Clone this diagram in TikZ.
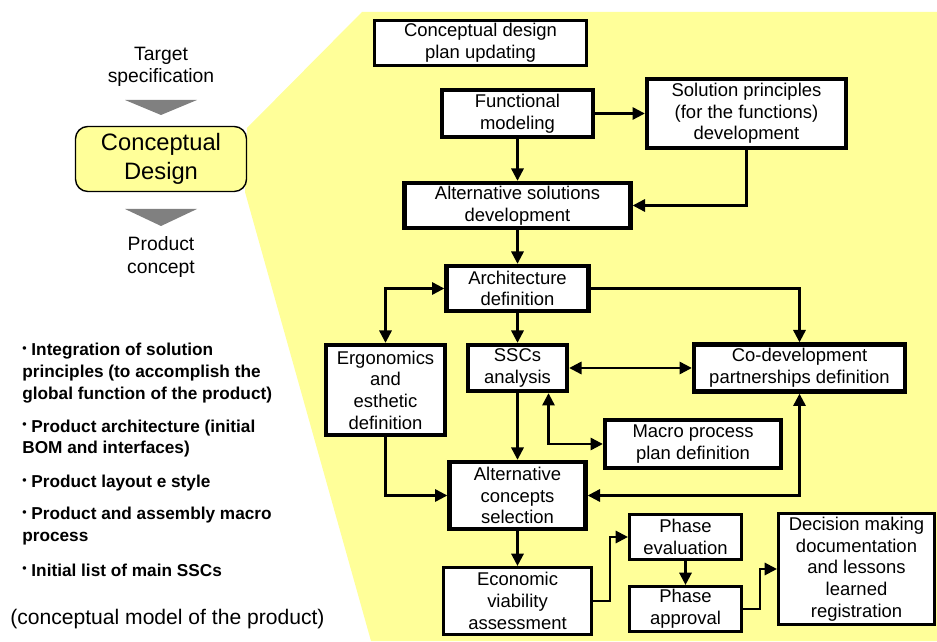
\documentclass[tikz,border=0pt]{standalone}
\usepackage{fontspec}
\setmainfont{Liberation Sans}
\usetikzlibrary{arrows.meta}
\definecolor{paleyellow}{HTML}{FFFF99}

\begin{document}
\begin{tikzpicture}[every node/.style={font=\fontsize{10.5}{12.3}\selectfont},
  box/.style={draw,line width=2.5pt,fill=white,align=center,inner sep=1pt},
  thinbox/.style={draw,line width=1.5pt,fill=white,align=center,inner sep=1pt},
  label/.style={align=center,font=\fontsize{11}{12.6}\selectfont},
  list/.style={align=left,inner sep=0pt,font=\fontsize{9.8}{12.3}\selectfont\bfseries},
  flow/.style={line width=1.3pt,-{Triangle[length=7pt,width=7pt]}},
  twoway/.style={line width=1.3pt,{Triangle[length=7pt,width=7pt]}-{Triangle[length=7pt,width=7pt]}}]
\useasboundingbox (0,0) rectangle (18.74,12.82);
% yellow zoom wedge
\fill[paleyellow] (4.94,10.26) -- (7.24,12.58) -- (18.74,12.58) -- (18.74,0) -- (7.42,0) -- (4.90,8.98) -- cycle;

% left column
\node[label] (target) at (3.22,11.48) {Target\\specification};
\fill[gray] (2.50,10.82) -- (3.94,10.82) -- (3.22,10.52) -- cycle;
\node[draw,line width=0.8pt,rounded corners=7pt,fill=paleyellow,minimum width=3.42cm,minimum height=1.30cm,
  align=center,font=\fontsize{13.5}{16.5}\selectfont] (cd) at (3.22,9.64) {Conceptual\\Design};
\fill[gray] (2.50,8.64) -- (3.94,8.64) -- (3.22,8.30) -- cycle;
\node[label] (concept) at (3.22,7.68) {Product\\concept};

\node[list,anchor=west] (item1) at (0.44,5.36) {\raisebox{0.35ex}{\scriptsize\textbullet}\ Integration of solution\\principles (to accomplish the\\global function of the product)};
\node[list,anchor=west] (item2) at (0.44,4.05) {\raisebox{0.35ex}{\scriptsize\textbullet}\ Product architecture (initial\\BOM and interfaces)};
\node[list,anchor=west] (item3) at (0.44,3.16) {\raisebox{0.35ex}{\scriptsize\textbullet}\ Product layout e style};
\node[list,anchor=west] (item4) at (0.44,2.30) {\raisebox{0.35ex}{\scriptsize\textbullet}\ Product and assembly macro\\process};
\node[list,anchor=west] (item5) at (0.44,1.42) {\raisebox{0.35ex}{\scriptsize\textbullet}\ Initial list of main SSCs};
\node[anchor=west,inner sep=0pt,font=\fontsize{12}{14}\selectfont] (model) at (0.20,0.44) {(conceptual model of the product)};

% activities
\node[thinbox,minimum width=4.25cm,minimum height=0.91cm] (plan) at (9.61,11.96) {Conceptual design\\plan updating};
\node[box,minimum width=3.02cm,minimum height=0.94cm] (func) at (10.35,10.55) {Functional\\modeling};
\node[box,minimum width=3.98cm,minimum height=1.38cm] (princ) at (14.93,10.55) {Solution principles\\(for the functions)\\development};
\node[box,minimum width=4.52cm,minimum height=0.90cm] (altsol) at (10.35,8.71) {Alternative solutions\\development};
\node[box,minimum width=2.84cm,minimum height=0.90cm] (arch) at (10.35,7.05) {Architecture\\definition};
\node[box,minimum width=2.38cm,minimum height=1.80cm] (ergo) at (7.71,5.02) {Ergonomics\\and\\esthetic\\definition};
\node[box,minimum width=1.98cm,minimum height=0.92cm] (ssc) at (10.35,5.46) {SSCs\\analysis};
\node[box,minimum width=4.22cm,minimum height=0.94cm] (codev) at (15.99,5.46) {Co-development\\partnerships definition};
\node[box,minimum width=3.52cm,minimum height=0.96cm] (macro) at (13.86,3.94) {Macro process\\plan definition};
\node[box,minimum width=2.72cm,minimum height=1.34cm] (altcon) at (10.35,2.91) {Alternative\\concepts\\selection};
\node[thinbox,minimum width=2.97cm,minimum height=1.35cm] (econ) at (10.35,0.80) {Economic\\viability\\assessment};
\node[thinbox,minimum width=2.25cm,minimum height=0.91cm] (eval) at (13.71,2.08) {Phase\\evaluation};
\node[thinbox,minimum width=2.25cm,minimum height=0.91cm] (appr) at (13.71,0.64) {Phase\\approval};
\node[thinbox,minimum width=3.13cm,minimum height=2.23cm] (dec) at (17.13,1.44) {Decision making\\documentation\\and lessons\\learned\\registration};

% connectors
\draw[flow] (func) -- (princ);
\draw[flow] (func) -- (altsol);
\draw[flow] (princ.south) |- (altsol.east);
\draw[flow] (altsol) -- (arch);
\draw[twoway] (ergo.north) |- (arch.west);
\draw[flow] (arch) -- (ssc);
\draw[flow] (arch.east) -| (codev.north);
\draw[twoway] (ssc) -- (codev);
\draw[flow] (ssc) -- (altcon);
\draw[twoway] ([xshift=6.2mm]ssc.south) |- (macro.west);
\draw[flow] (ergo.south) |- (altcon.west);
\draw[twoway] (codev.south) |- (altcon.east);
\draw[flow] (altcon) -- (econ);
\draw[flow] (econ.east) -- ++(0.34,0) |- (eval.west);
\draw[flow] (eval) -- (appr);
\draw[flow] (appr.east) -- ++(0.34,0) |- (dec.west);
\end{tikzpicture}
\end{document}
